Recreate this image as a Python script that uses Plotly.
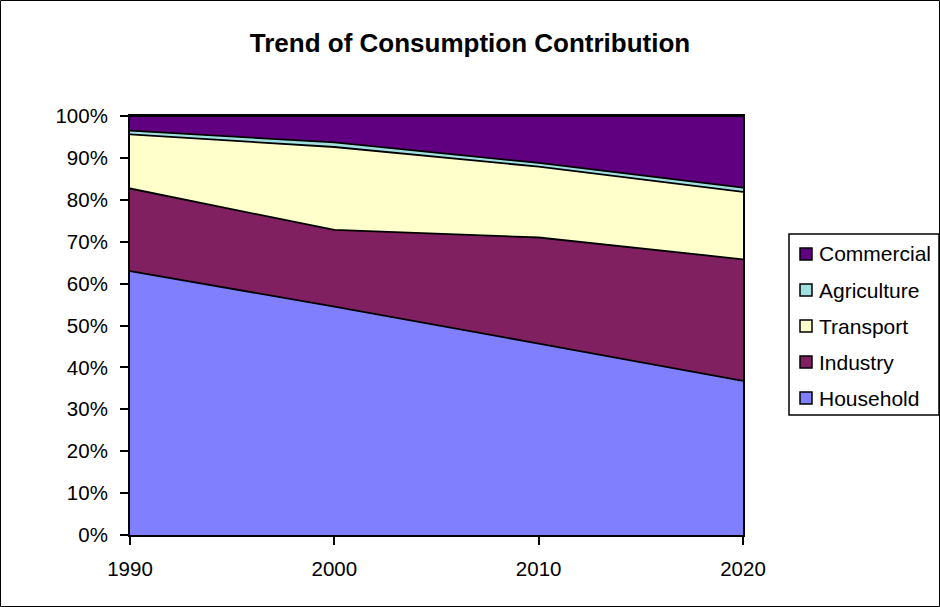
import plotly.graph_objects as go

# Share of total consumption by sector (percent of each year's total)
years = [1990, 2000, 2010, 2020]
sectors = ["Household", "Industry", "Transport", "Agriculture", "Commercial"]
household = [63.0, 54.5, 45.7, 36.8]
industry = [19.7, 18.3, 25.3, 29.0]
transport = [12.9, 19.8, 16.9, 16.1]
agriculture = [0.9, 1.1, 0.9, 1.0]
commercial = [3.5, 6.3, 11.2, 17.1]
y_ticks = list(range(0, 101, 10))

series = [household, industry, transport, agriculture, commercial]
colors = ["#8080FF", "#802060", "#FFFFCC", "#A0E0E0", "#600080"]

FONT = "Liberation Sans, Arial, sans-serif"

# Figure geometry (pixels)
W, H = 940, 607
L, R, T, B = 130, 197, 116, 72
PW, PH = W - L - R, H - T - B


def px_x(x):
    return (x - L) / PW


def px_y(y):
    return (H - B - y) / PH


fig = go.Figure()
for name, vals, col in zip(sectors, series, colors):
    fig.add_trace(go.Scatter(
        x=years, y=vals, name=name, mode="lines",
        stackgroup="one", groupnorm="percent",
        line=dict(color="black", width=1.8),
        fillcolor=col, showlegend=False,
        hovertemplate="%{x}: %{y:.1f}%<extra>" + name + "</extra>",
    ))

shapes = []
annotations = []

# Legend box with square swatches, Commercial on top
shapes.append(dict(type="rect", xref="paper", yref="paper",
                   x0=px_x(789), x1=px_x(939), y0=px_y(415), y1=px_y(234),
                   line=dict(color="black", width=1.5), fillcolor="white",
                   layer="above"))
for i, (name, col) in enumerate(zip(reversed(sectors), reversed(colors))):
    cy = 254 + 36 * i
    shapes.append(dict(type="rect", xref="paper", yref="paper",
                       x0=px_x(800), x1=px_x(812),
                       y0=px_y(cy + 6), y1=px_y(cy - 6),
                       line=dict(color="black", width=1.5), fillcolor=col,
                       layer="above"))
    annotations.append(dict(xref="paper", yref="paper", x=px_x(817),
                            y=px_y(cy), text=name, showarrow=False,
                            xanchor="left", yanchor="middle",
                            font=dict(family=FONT, size=21, color="black")))

# Outer chart frame
shapes.append(dict(type="rect", xref="paper", yref="paper",
                   x0=px_x(0.5), x1=px_x(939.5),
                   y0=px_y(606.5), y1=px_y(0.5),
                   line=dict(color="black", width=1), layer="above"))

fig.update_layout(
    width=W, height=H,
    margin=dict(l=L, r=R, t=T, b=B, pad=0),
    paper_bgcolor="white", plot_bgcolor="white",
    title=dict(text="<b>Trend of Consumption Contribution</b>",
               x=0.5, xanchor="center", y=1 - 43 / H, yanchor="middle",
               font=dict(family=FONT, size=26, color="black")),
    shapes=shapes, annotations=annotations,
    showlegend=False,
    font=dict(family=FONT, color="black"),
)

fig.update_xaxes(
    range=[years[0], years[-1]], tickvals=years, ticktext=[str(y) for y in years],
    showgrid=False, zeroline=False,
    showline=True, linecolor="black", linewidth=2, mirror=True,
    ticks="outside", ticklen=8, tickwidth=2, tickcolor="black",
    ticklabelstandoff=6,
    tickfont=dict(family=FONT, size=20.5, color="black"),
)
fig.update_yaxes(
    range=[0, 100], tickvals=y_ticks, ticktext=[f"{v}%" for v in y_ticks],
    showgrid=False, zeroline=False,
    showline=True, linecolor="black", linewidth=2, mirror=True,
    ticks="outside", ticklen=8, tickwidth=2, tickcolor="black",
    ticklabelstandoff=8,
    tickfont=dict(family=FONT, size=20.5, color="black"),
)

fig.write_html("out.html")
